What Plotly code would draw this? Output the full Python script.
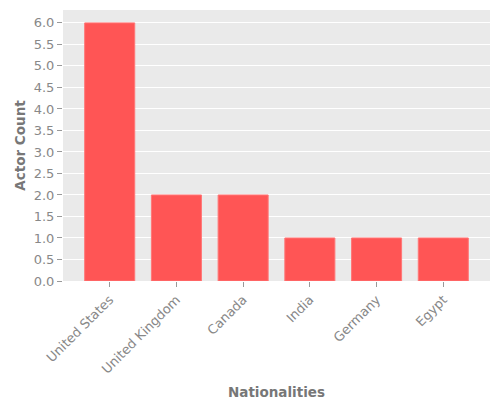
import plotly.graph_objects as go

countries = ["United States", "United Kingdom", "Canada", "India", "Germany", "Egypt"]
actor_counts = [6, 2, 2, 1, 1, 1]

fig = go.Figure(go.Bar(
    x=countries,
    y=actor_counts,
    width=0.75,
    marker=dict(color="#FF5555", line=dict(color="#FF7777", width=1)),
))

# page has an 8px body margin, so the figure is a bit smaller than the window
fig.update_layout(
    width=492, height=392,
    margin=dict(l=55, r=10, t=2, b=119),
    paper_bgcolor="white",
    plot_bgcolor="#EAEAEA",
    font=dict(family="DejaVu Sans", color="#888888", size=13),
    showlegend=False,
)
fig.update_xaxes(
    range=[-0.7, 5.7],
    tickangle=-45,
    automargin=False,
    ticks="outside", ticklen=5, tickcolor="#999999",
    showgrid=False,
    title=dict(text="<b>Nationalities</b>", font=dict(size=13.5, color="#777777"), standoff=17),
)
fig.update_yaxes(
    range=[0, 6.3],
    dtick=0.5, tickformat=".1f",
    automargin=False,
    ticks="outside", ticklen=5, tickcolor="#999999",
    gridcolor="white", gridwidth=1,
    zeroline=False,
    title=dict(text="<b>Actor Count</b>", font=dict(size=13.5, color="#777777"), standoff=4),
)

fig.write_html("out.html")
